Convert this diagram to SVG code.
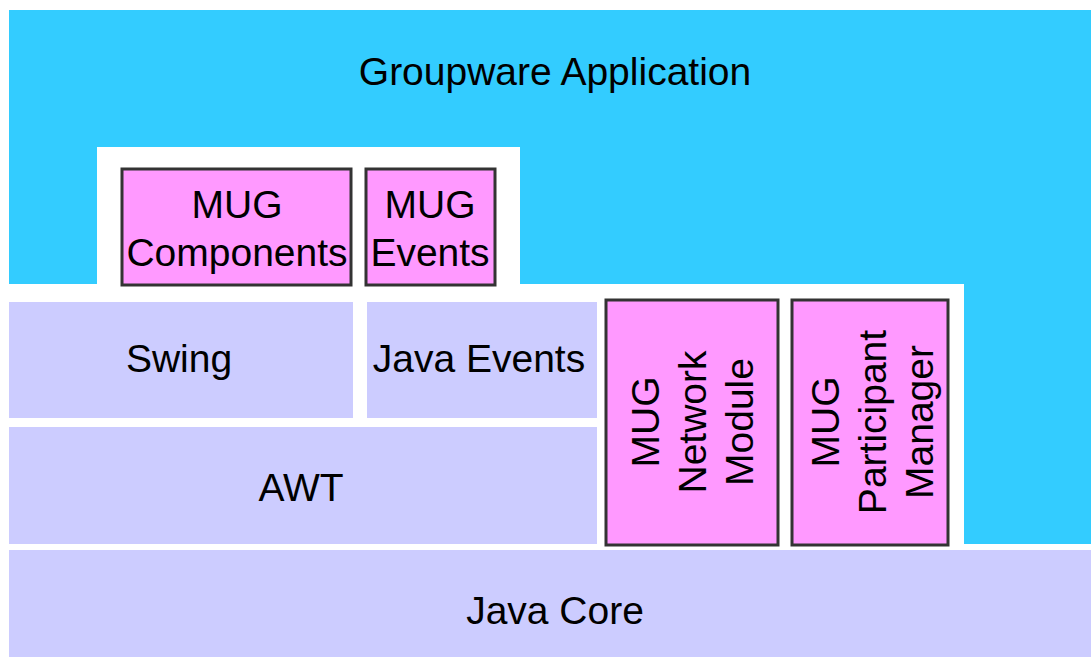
<svg xmlns="http://www.w3.org/2000/svg" width="1091" height="657" viewBox="0 0 1091 657">
<style>
.t{font-family:"Liberation Sans",Arial,sans-serif;font-size:39px;fill:#000;text-anchor:middle}
.lav{fill:#CCCCFF}
.pink{fill:#FF99FF;stroke:#333333;stroke-width:3}
</style>
<rect width="1091" height="657" fill="#FFFFFF"/>
<g id="groupware">
<path d="M9,10 H1091 V544 H964 V284 H520 V147 H97 V284 H9 Z" fill="#33CCFF"/>
<text class="t" x="555" y="85">Groupware Application</text>
</g>
<g id="mug-components">
<rect class="pink" x="122" y="169" width="229" height="116"/>
<text class="t" x="237" y="218">MUG</text>
<text class="t" x="237" y="266">Components</text>
</g>
<g id="mug-events">
<rect class="pink" x="366" y="169" width="129" height="116"/>
<text class="t" x="430" y="218">MUG</text>
<text class="t" x="430" y="266">Events</text>
</g>
<g id="swing">
<rect class="lav" x="9" y="302" width="344" height="116"/>
<text class="t" x="179" y="372">Swing</text>
</g>
<g id="java-events">
<rect class="lav" x="367" y="302" width="230" height="116"/>
<text class="t" x="479" y="372">Java Events</text>
</g>
<g id="awt">
<rect class="lav" x="9" y="427" width="588" height="117"/>
<text class="t" x="301" y="501">AWT</text>
</g>
<g id="mug-network">
<rect class="pink" x="606" y="300" width="172" height="245"/>
<g transform="translate(0,422) rotate(-90)">
<text class="t" x="0" y="659">MUG</text>
<text class="t" x="0" y="706">Network</text>
<text class="t" x="0" y="753">Module</text>
</g>
</g>
<g id="mug-participant">
<rect class="pink" x="792" y="300" width="156" height="245"/>
<g transform="translate(0,422) rotate(-90)">
<text class="t" x="0" y="839">MUG</text>
<text class="t" x="0" y="886">Participant</text>
<text class="t" x="0" y="933">Manager</text>
</g>
</g>
<g id="java-core">
<rect class="lav" x="9" y="550" width="1082" height="107"/>
<text class="t" x="555" y="624">Java Core</text>
</g>
<g id="connectors"></g>
</svg>
